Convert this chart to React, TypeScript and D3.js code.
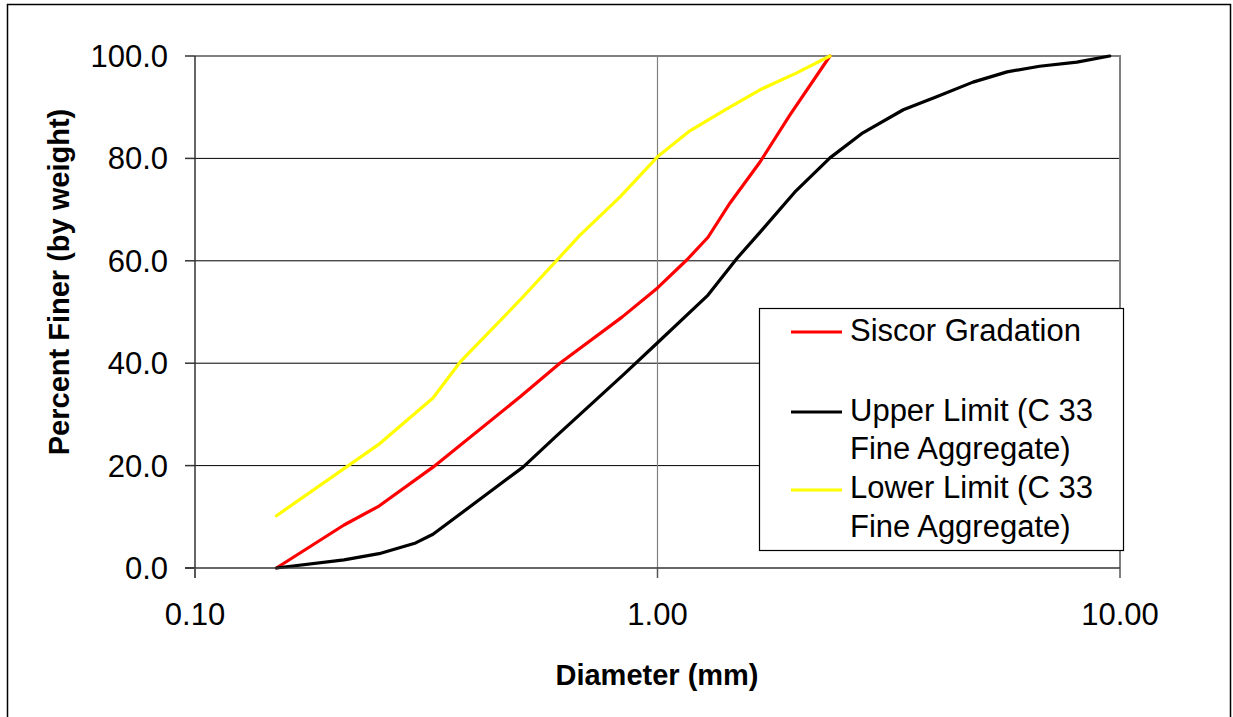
import React from "react"
import * as d3 from "d3"

// Sieve sizes (mm) and percent finer
const siscorSize = [0.15, 0.21, 0.25, 0.327, 0.504, 0.615, 0.838, 1.0, 1.158, 1.286, 1.435, 1.666, 1.934, 2.36]
const siscorPct = [0, 8.4, 12.1, 19.7, 33.4, 40.0, 49.0, 54.7, 60.2, 64.6, 71.3, 79.3, 88.5, 100]

const upperSize = [0.15, 0.21, 0.25, 0.30, 0.327, 0.42, 0.512, 0.60, 0.85, 1.0, 1.286, 1.486, 1.667, 1.98, 2.36, 2.78, 3.4, 4.0, 4.81, 5.7, 6.7, 8.07, 9.5]
const upperPct = [0, 1.6, 2.8, 4.9, 6.6, 13.9, 19.7, 25.5, 38.0, 44.0, 53.3, 60.5, 65.6, 73.4, 80.1, 85.0, 89.5, 92.0, 94.9, 96.9, 98.0, 98.8, 100]

const lowerSize = [0.15, 0.251, 0.327, 0.374, 0.504, 0.68, 0.83, 1.0, 1.175, 1.4, 1.666, 2.0, 2.36]
const lowerPct = [10.2, 24.3, 33.2, 40.2, 52.3, 65.0, 72.5, 80.3, 85.4, 89.5, 93.4, 96.7, 100]

const yTicks = [0, 20, 40, 60, 80, 100]
const xTicks = [0.1, 1, 10]

const SERIES = [
  { key: "siscor", label: ["Siscor Gradation"], color: "#ff0000", size: siscorSize, pct: siscorPct },
  { key: "upper", label: ["Upper Limit (C 33", "Fine Aggregate)"], color: "#000000", size: upperSize, pct: upperPct },
  { key: "lower", label: ["Lower Limit (C 33", "Fine Aggregate)"], color: "#ffff00", size: lowerSize, pct: lowerPct },
]

const FONT = "'Liberation Sans', Arial, sans-serif"

export default function App() {
  const width = 1233
  const height = 717
  const plot = { left: 195, right: 1120, top: 56, bottom: 568 }

  const x = d3.scaleLog().domain([0.1, 10]).range([plot.left, plot.right])
  const y = d3.scaleLinear().domain([0, 100]).range([plot.bottom, plot.top])

  const line = d3
    .line<[number, number]>()
    .x(d => x(d[0]))
    .y(d => y(d[1]))

  // legend layout
  const lg = { x: 759, y: 308, w: 364, h: 242 }
  const legendRows = [
    { lineY: 332, baselines: [341] },
    { lineY: 412, baselines: [421, 459] },
    { lineY: 490, baselines: [498, 537] },
  ]

  return (
    <svg
      width={width}
      height={height}
      style={{ position: "absolute", left: 0, top: 0, background: "#fff" }}
      fontFamily={FONT}
    >
      <rect x={0} y={0} width={width} height={height} fill="#fff" />
      {/* outer frame */}
      <rect x={7.5} y={4.5} width={1223} height={730} fill="none" stroke="#000" strokeWidth={1.5} />

      {/* horizontal gridlines */}
      {yTicks.filter(t => t > 0 && t < 100).map(t => (
        <line key={t} x1={plot.left} x2={plot.right} y1={y(t)} y2={y(t)} stroke="#000" strokeWidth={1} />
      ))}
      {/* vertical gridline */}
      <line x1={x(1)} x2={x(1)} y1={plot.top} y2={plot.bottom} stroke="#808080" strokeWidth={1.2} />

      {/* plot border (top and right) */}
      <path
        d={`M${plot.left},${plot.top}H${plot.right}V${plot.bottom}`}
        fill="none"
        stroke="#808080"
        strokeWidth={2}
      />

      {/* series */}
      {SERIES.map(s => (
        <path
          key={s.key}
          d={line(s.size.map((v, i) => [v, s.pct[i]] as [number, number])) || ""}
          fill="none"
          stroke={s.color}
          strokeWidth={3.2}
          strokeLinejoin="round"
          strokeLinecap="round"
        />
      ))}

      {/* y axis */}
      <line x1={plot.left} x2={plot.left} y1={plot.top} y2={plot.bottom + 10} stroke="#333" strokeWidth={1.5} />
      {yTicks.map(t => (
        <g key={t}>
          <line x1={plot.left - 10} x2={plot.left} y1={y(t)} y2={y(t)} stroke="#333" strokeWidth={1.5} />
          <text x={168} y={y(t) + 11} fontSize={31} textAnchor="end" fill="#000">
            {t.toFixed(1)}
          </text>
        </g>
      ))}

      {/* x axis */}
      <line x1={plot.left - 10} x2={plot.right} y1={plot.bottom} y2={plot.bottom} stroke="#333" strokeWidth={1.5} />
      {xTicks.map(t => (
        <g key={t}>
          <line x1={x(t)} x2={x(t)} y1={plot.bottom} y2={plot.bottom + 10} stroke="#555" strokeWidth={1.5} />
          <text x={x(t)} y={625} fontSize={31} textAnchor="middle" fill="#000">
            {t.toFixed(2)}
          </text>
        </g>
      ))}

      {/* axis titles */}
      <text x={657} y={685} fontSize={29} fontWeight="bold" textAnchor="middle" fill="#000">
        Diameter (mm)
      </text>
      <text
        transform={`translate(69, 282) rotate(-90)`}
        fontSize={29}
        fontWeight="bold"
        textAnchor="middle"
        fill="#000"
      >
        Percent Finer (by weight)
      </text>

      {/* legend */}
      <rect x={lg.x + 0.5} y={lg.y + 0.5} width={lg.w} height={lg.h} fill="#fff" stroke="#000" strokeWidth={1.2} />
      {SERIES.map((s, i) => (
        <g key={s.key}>
          <line x1={791} x2={842} y1={legendRows[i].lineY} y2={legendRows[i].lineY} stroke={s.color} strokeWidth={3.2} />
          {s.label.map((txt, j) => (
            <text key={j} x={850} y={legendRows[i].baselines[j]} fontSize={31} fill="#000">
              {txt}
            </text>
          ))}
        </g>
      ))}
    </svg>
  )
}
